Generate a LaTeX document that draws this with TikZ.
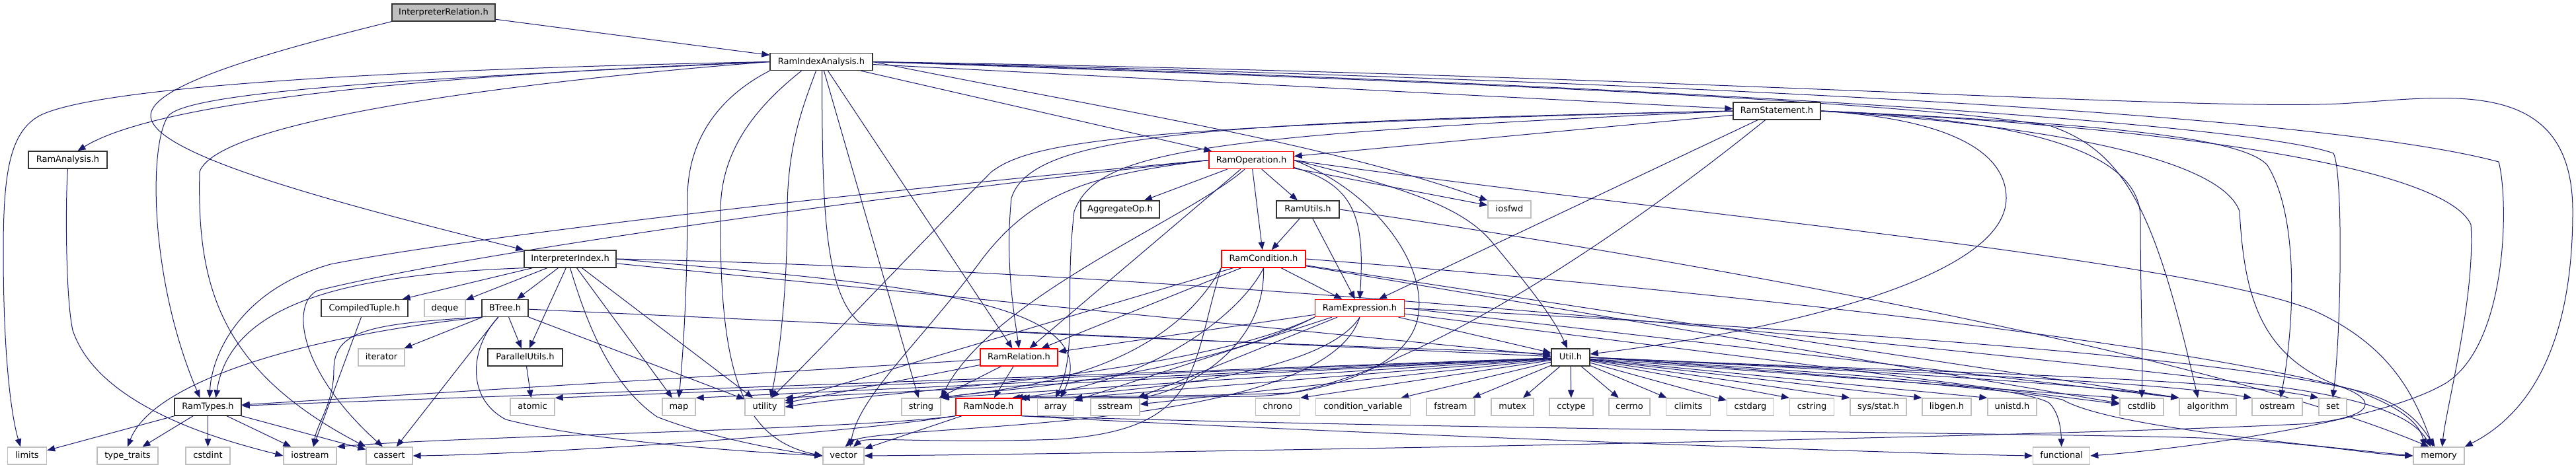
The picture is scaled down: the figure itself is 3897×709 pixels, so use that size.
\documentclass[tikz,border=0pt]{standalone}
\usepackage{fontspec}
\newfontfamily\dv{DejaVu Sans}
\usetikzlibrary{arrows.meta}
\pgfdeclarelayer{bg}
\pgfsetlayers{bg,main}
\definecolor{mblue}{RGB}{25,25,112}
\definecolor{lgray}{RGB}{191,191,191}
\tikzset{
  nb/.style={draw=black!80, line width=0.27mm, fill=white, inner sep=0pt, minimum height=5.2mm,
    text height=1.95mm, text depth=0.55mm, font=\dv\fontsize{7.4pt}{8pt}\selectfont, text=black},
  pw/.style={minimum width=#1*0.2mm},
  sysb/.style={nb, draw=lgray},
  redb/.style={nb, draw=red},
  curb/.style={nb, fill=lgray},
  edg/.style={draw=mblue, line width=0.2mm, -{Triangle[length=2.4mm,width=1.9mm]}}
}
\begin{document}
\begin{tikzpicture}[x=0.2mm, y=-0.2mm]
\useasboundingbox (0,0) rectangle (3897,709);
% ---------- nodes ----------
\node[curb,pw=156] (IR) at (671,19) {InterpreterRelation.h};
\node[nb,pw=155] (RIA) at (1242.5,93.5) {RamIndexAnalysis.h};
\node[nb,pw=119] (RA) at (102.5,242) {RamAnalysis.h};
\node[nb,pw=132] (RS) at (2688,168) {RamStatement.h};
\node[redb,pw=128] (ROp) at (1893,242.5) {RamOperation.h};
\node[nb,pw=119] (AOp) at (1694.5,317) {AggregateOp.h};
\node[nb,pw=95] (RU) at (1978.5,317) {RamUtils.h};
\node[sysb,pw=65] (iosfwd) at (2283.5,317) {iosfwd};
\node[nb,pw=139] (II) at (862.5,392) {InterpreterIndex.h};
\node[redb,pw=127] (RC) at (1911.5,392) {RamCondition.h};
\node[nb,pw=131] (CT) at (551.5,466.5) {CompiledTuple.h};
\node[sysb,pw=62] (deque) at (673,466.5) {deque};
\node[nb,pw=70] (BT) at (764,466.5) {BTree.h};
\node[redb,pw=135] (RE) at (2057,466.5) {RamExpression.h};
\node[sysb,pw=70] (iterator) at (577,541) {iterator};
\node[nb,pw=113] (PU) at (794.5,541) {ParallelUtils.h};
\node[redb,pw=117] (RR) at (1541.5,541) {RamRelation.h};
\node[nb,pw=58] (Util) at (2376,541) {Util.h};
% row 616
\node[nb,pw=101] (RT) at (314.5,616) {RamTypes.h};
\node[sysb,pw=67] (atomic) at (805.5,616) {atomic};
\node[sysb,pw=50] (map) at (1027,616) {map};
\node[sysb,pw=60] (utility) at (1157,616) {utility};
\node[sysb,pw=59] (string) at (1393.5,616) {string};
\node[redb,pw=99] (RN) at (1495.5,616) {RamNode.h};
\node[sysb,pw=55] (array) at (1597,616) {array};
\node[sysb,pw=74] (sstream) at (1687,616) {sstream};
\node[sysb,pw=67] (chrono) at (1933,616) {chrono};
\node[sysb,pw=143] (condvar) at (2062,616) {condition\_variable};
\node[sysb,pw=73] (fstream) at (2194.5,616) {fstream};
\node[sysb,pw=64] (mutex) at (2288,616) {mutex};
\node[sysb,pw=66] (cctype) at (2377,616) {cctype};
\node[sysb,pw=62] (cerrno) at (2465,616) {cerrno};
\node[sysb,pw=67] (climits) at (2554,616) {climits};
\node[sysb,pw=71] (cstdarg) at (2648,616) {cstdarg};
\node[sysb,pw=67] (cstring) at (2741,616) {cstring};
\node[sysb,pw=85] (sysstat) at (2841.5,616) {sys/stat.h};
\node[sysb,pw=74] (libgen) at (2945,616) {libgen.h};
\node[sysb,pw=74] (unistd) at (3044,616) {unistd.h};
\node[sysb,pw=66] (cstdlib) at (3240,616) {cstdlib};
\node[sysb,pw=86] (algorithm) at (3340,616) {algorithm};
\node[sysb,pw=76] (ostream) at (3445,616) {ostream};
\node[sysb,pw=42] (set) at (3529,616) {set};
% row 690
\node[sysb,pw=59] (limits) at (41,690) {limits};
\node[sysb,pw=92] (typetraits) at (193,690) {type\_traits};
\node[sysb,pw=67] (cstdint) at (314.5,690) {cstdint};
\node[sysb,pw=80] (iostream) at (469,690) {iostream};
\node[sysb,pw=70] (cassert) at (589,690) {cassert};
\node[sysb,pw=62] (vector) at (1276,690) {vector};
\node[sysb,pw=86] (functional) at (3118.6,690) {functional};
\node[sysb,pw=77] (memory) at (3689.5,690) {memory};
% ---------- edges ----------
\begin{pgfonlayer}{bg}
% InterpreterRelation.h
\draw[edg] (IR) -- (RIA);
\draw[edg] (IR.south west) .. controls (400,80) and (228,130) .. (228,175) .. controls (228,235) and (520,310) .. (II.north west);
% RamIndexAnalysis.h
\draw[edg] (RIA.west) .. controls (800,108) and (260,140) .. ([xshift=3mm]RA.north);
\draw[edg] (RIA.west) .. controls (600,105) and (150,130) .. (60,175) .. controls (15,200) and (5,260) .. (5,380) .. controls (5,560) and (20,640) .. ([xshift=-2mm]limits.north);
\draw[edg] (RIA.west) .. controls (700,116) and (290,135) .. (255,175) .. controls (225,215) and (225,420) .. ([xshift=-2.4mm]RT.north);
\draw[edg] (RIA.west) .. controls (800,122) and (330,180) .. (302,260) .. controls (298,430) and (330,560) .. (cassert.north west);
\draw[edg] (RIA.south west) .. controls (1100,140) and (1040,200) .. (1040,300) .. controls (1040,450) and (1032,550) .. (map.north);
\draw[edg] ([xshift=-6mm]RIA.south) .. controls (1140,165) and (1090,230) .. (1090,320) .. controls (1088,560) and (1120,665) .. (vector.west);
\draw[edg] ([xshift=-1.6mm]RIA.south) .. controls (1215,160) and (1191,220) .. (1191,320) .. controls (1191,460) and (1175,560) .. ([xshift=1.8mm]utility.north);
\draw[edg] ([xshift=0.2mm]RIA.south) .. controls (1244,300) and (1245,440) .. (1300,488) .. controls (1600,512) and (2200,528) .. ([yshift=1mm]Util.west);
\draw[edg] ([xshift=2mm]RIA.south) -- ([xshift=-2mm]RR.north);
\draw[edg] (RIA) -- (ROp);
\draw[edg] (RIA) -- (RS);
\draw[edg] (RIA.east) .. controls (1700,170) and (2000,215) .. (iosfwd.north west);
\draw[edg] (RIA) -- (string);
\draw[edg] (RIA.east) .. controls (2500,112) and (3300,168) .. (3540,157) .. controls (3700,148) and (3892,110) .. (3892,320) .. controls (3892,560) and (3800,640) .. (memory.north east);
\draw[edg] (RIA.east) .. controls (2500,122) and (3500,170) .. (3780,245) .. controls (3795,300) and (3795,520) .. (3700,580) .. controls (3600,640) and (3300,680) .. (functional.east);
\draw[edg] (RIA.east) .. controls (2500,128) and (3400,185) .. (3530,232) .. controls (3545,260) and (3542,500) .. (set.north);
\draw[edg] (RIA.east) .. controls (2400,130) and (2900,158) .. (3100,190) .. controls (3220,230) and (3262,330) .. ([xshift=-3mm]algorithm.north);
% RamAnalysis.h
\draw[edg] (RA.south) .. controls (99,300) and (99,450) .. (110,500) .. controls (150,620) and (350,670) .. (iostream.west);
% RamStatement.h
\draw[edg] (RS) -- (ROp);
\draw[edg] (RS) -- (RE);
\draw[edg] ([xshift=-3.5mm]RS.south) .. controls (2450,360) and (2150,560) .. (1950,595) .. controls (1800,600) and (1650,600) .. (RN.north east);
\draw[edg] (RS.east) .. controls (2950,180) and (3035,230) .. (3035,300) .. controls (3035,420) and (2700,500) .. ([yshift=1mm]Util.east);
\draw[edg] (RS.east) .. controls (3100,182) and (3238,240) .. (3238,330) .. controls (3238,450) and (3242,540) .. (cstdlib.north);
\draw[edg] (RS.east) .. controls (3150,186) and (3390,205) .. (3430,250) .. controls (3480,330) and (3470,500) .. ([xshift=1mm]ostream.north);
\draw[edg] (RS.east) .. controls (3300,192) and (3700,255) .. (3738,340) .. controls (3745,450) and (3700,620) .. ([xshift=1mm]memory.north);
\draw[edg] (RS.east) .. controls (3100,190) and (3360,240) .. (3388,320) .. controls (3395,450) and (3420,540) .. (3540,585) .. controls (3610,610) and (3580,635) .. (3480,642) .. controls (3000,665) and (1600,688) .. (vector.east);
\draw[edg] (RS.west) .. controls (1800,185) and (1560,205) .. (1530,300) .. controls (1520,400) and (1535,480) .. (RR.north);
\draw[edg] (RS.west) .. controls (1700,190) and (1560,215) .. (1500,260) .. controls (1420,340) and (1250,520) .. ([xshift=2mm]utility.north);
\draw[edg] (RS.west) .. controls (1800,205) and (1660,230) .. (1625,320) .. controls (1610,450) and (1630,530) .. (array.north);
% RamOperation.h
\draw[edg] (ROp) -- (AOp);
\draw[edg] (ROp) -- (RU);
\draw[edg] (ROp) -- (RC);
\draw[edg] ([yshift=-2.2mm]ROp.east) .. controls (2050,280) and (2065,330) .. (RE.north);
\draw[edg] (ROp) -- (RR);
\draw[edg] (ROp) -- (iosfwd);
\draw[edg] (ROp.east) .. controls (2150,290) and (2220,320) .. (2260,370) .. controls (2310,430) and (2350,480) .. ([xshift=-1mm]Util.north);
\draw[edg] (ROp.east) .. controls (2500,320) and (3300,390) .. (3500,470) .. controls (3610,520) and (3650,590) .. ([xshift=-1.8mm]memory.north);
\draw[edg] (ROp.west) .. controls (1300,290) and (700,360) .. (500,400) .. controls (360,440) and (320,540) .. ([xshift=0.5mm]RT.north);
\draw[edg] (ROp.west) .. controls (1300,300) and (700,385) .. (480,440) .. controls (440,460) and (450,560) .. ([xshift=-2mm]cassert.north);
\draw[edg] ([xshift=-2mm]ROp.south) .. controls (1800,330) and (1500,450) .. (string.north east);
\draw[edg] (ROp.west) .. controls (1650,265) and (1560,290) .. (1480,400) .. controls (1390,520) and (1300,600) .. ([xshift=2mm]vector.north);
\draw[edg] (ROp.east) .. controls (2080,290) and (2160,400) .. (2145,480) .. controls (2130,560) and (2000,595) .. (1900,600) .. controls (1700,602) and (1600,602) .. ([xshift=-1mm]RN.north east);
% RamUtils.h
\draw[edg] (RU) -- (RC);
\draw[edg] (RU) -- (RE);
\draw[edg] (RU.east) .. controls (2600,400) and (3350,540) .. ([xshift=-3mm]memory.north);
% RamCondition.h
\draw[edg] (RC) -- (RE);
\draw[edg] (RC) -- (RR);
\draw[edg] (RC.south) .. controls (1880,470) and (1750,580) .. ([xshift=-2mm]RN.north east);
\draw[edg] (RC.south) .. controls (1915,530) and (1790,590) .. (sstream.north east);
\draw[edg] (RC.south west) .. controls (1750,580) and (1500,590) .. (string.north east);
\draw[edg] (RC) -- (utility);
\draw[edg] (RC.east) .. controls (2600,440) and (3300,520) .. (3560,590) .. controls (3630,615) and (3660,640) .. ([xshift=-4.2mm]memory.north);
\draw[edg] (RC) -- (cstdlib);
\draw[edg] (RC) -- (algorithm.north west);
\draw[edg] (RC.south west) .. controls (1800,560) and (1820,650) .. (1600,665) .. controls (1400,672) and (1310,660) .. ([xshift=3mm]vector.north);
% RamExpression.h
\draw[edg] (RE) -- (RR);
\draw[edg] (RE) -- (Util);
\draw[edg] (RE.south) .. controls (2000,570) and (1700,595) .. ([xshift=-3mm]RN.north east);
\draw[edg] (RE.south west) .. controls (1800,575) and (1500,590) .. (string.north east);
\draw[edg] (RE) -- (sstream);
\draw[edg] (RE) -- (array);
\draw[edg] (RE.south west) .. controls (1800,570) and (1350,590) .. (utility.east);
\draw[edg] (RE.south) .. controls (2000,660) and (1320,640) .. ([xshift=0.5mm]vector.north);
\draw[edg] (RE.east) .. controls (2800,500) and (3400,545) .. (3580,595) .. controls (3640,615) and (3660,640) .. ([xshift=-1.2mm]memory.north);
\draw[edg] (RE) -- (cstdlib);
\draw[edg] (RE.east) -- (algorithm.north west);
% RamRelation.h
\draw[edg] (RR) -- (RT);
\draw[edg] (RR) -- (RN);
\draw[edg] (RR) -- (string);
\draw[edg] (RR) -- (utility);
% RamNode.h
\draw[edg] (RN) -- (vector);
\draw[edg] (RN.south east) .. controls (1900,650) and (2800,685) .. (functional.west);
\draw[edg] (RN.south east) .. controls (2200,650) and (3000,655) .. (3300,662) .. controls (3500,668) and (3580,688) .. (memory.west);
\draw[edg] (RN.south west) .. controls (1250,660) and (800,688) .. (cassert.east);
\draw[edg] (RN.south west) .. controls (1300,650) and (700,660) .. (iostream.north east);
% InterpreterIndex.h
\draw[edg] (II) -- (CT);
\draw[edg] (II) -- (deque);
\draw[edg] (II) -- (BT);
\draw[edg] (II) -- (PU);
\draw[edg] (II.south west) .. controls (550,415) and (350,450) .. ([xshift=2.4mm]RT.north);
\draw[edg] (II) -- (map);
\draw[edg] (II) -- (utility);
\draw[edg] (II.south) .. controls (885,480) and (920,580) .. (994,631) .. controls (1080,665) and (1200,685) .. (vector.west);
\draw[edg] (II.east) .. controls (1350,430) and (1680,450) .. ([xshift=1.5mm]array.north);
\draw[edg] (II) -- (Util);
\draw[edg] (II.east) .. controls (1800,410) and (2900,520) .. (3400,580) .. controls (3580,600) and (3650,630) .. ([xshift=-2.4mm]memory.north);
% CompiledTuple.h
\draw[edg] (CT) -- (iostream);
% BTree.h
\draw[edg] (BT) -- (PU);
\draw[edg] (BT) -- (iterator);
\draw[edg] (BT.south west) .. controls (450,510) and (230,580) .. (typetraits.north);
\draw[edg] (BT.south west) .. controls (560,490) and (505,500) .. (505,560) .. controls (505,610) and (480,640) .. ([xshift=1mm]iostream.north);
\draw[edg] (BT) -- (cassert);
\draw[edg] (BT) -- (utility);
\draw[edg] (BT) -- (Util);
\draw[edg] ([xshift=-2mm]BT.south) .. controls (715,520) and (700,600) .. (765,635) .. controls (900,670) and (1150,685) .. (vector.west);
% ParallelUtils.h
\draw[edg] (PU) -- (atomic);
% RamTypes.h
\draw[edg] (RT) -- (limits);
\draw[edg] (RT) -- (typetraits);
\draw[edg] (RT) -- (cstdint);
\draw[edg] (RT) -- (iostream);
\draw[edg] (RT) -- (cassert);
% Util.h
\draw[edg] (Util) -- (RT);
\draw[edg] (Util) -- (atomic.north east);
\draw[edg] (Util) -- (map.north east);
\draw[edg] (Util) -- (utility.north east);
\draw[edg] (Util) -- (string.north east);
\draw[edg] (Util) -- (array.north east);
\draw[edg] (Util) -- (sstream);
\draw[edg] (Util) -- (chrono.north east);
\draw[edg] (Util) -- (condvar);
\draw[edg] (Util) -- (fstream);
\draw[edg] (Util) -- (mutex);
\draw[edg] (Util) -- (cctype);
\draw[edg] (Util) -- (cerrno);
\draw[edg] (Util) -- (climits);
\draw[edg] (Util) -- (cstdarg);
\draw[edg] (Util) -- (cstring.north west);
\draw[edg] (Util) -- (sysstat.north west);
\draw[edg] (Util) -- (libgen.north west);
\draw[edg] (Util) -- (unistd.north west);
\draw[edg] (Util) -- (cstdlib.north west);
\draw[edg] (Util.east) .. controls (2800,560) and (3150,580) .. (algorithm.north west);
\draw[edg] (Util.east) .. controls (2800,560) and (3250,575) .. (ostream.north west);
\draw[edg] (Util.east) .. controls (2800,560) and (3350,570) .. (set.north west);
\draw[edg] (Util.east) .. controls (2800,570) and (3050,590) .. (3120,605) .. controls (3180,640) and (3400,665) .. (memory.west);
\draw[edg] (Util.east) .. controls (2700,560) and (3050,580) .. (3100,610) .. controls (3115,625) and (3118,650) .. (functional.north);
\end{pgfonlayer}
\end{tikzpicture}
\end{document}
